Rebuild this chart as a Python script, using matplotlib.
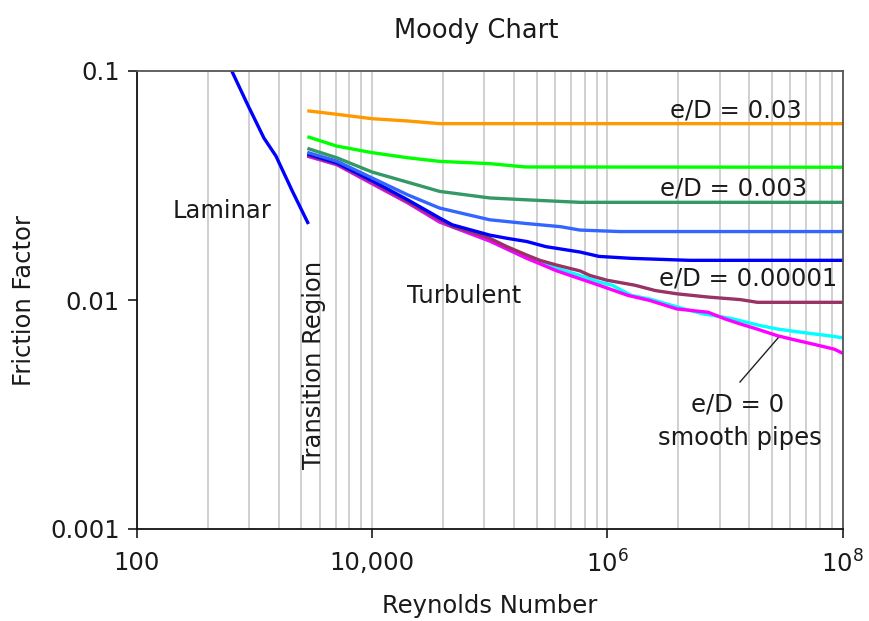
import matplotlib
matplotlib.use("Agg")
import matplotlib.pyplot as plt
from matplotlib.ticker import FixedLocator, FixedFormatter, NullLocator

plt.rcParams['font.family'] = ['DejaVu Sans']

# ---------------- data ----------------
lam_re = [640, 870, 1200, 1520, 2100, 2830]
lam_f = [0.1, 0.0715, 0.051, 0.0425, 0.0298, 0.0218]

ed003_re = [2900, 5000, 1.0e4, 2.0e4, 3.75e4, 1.0e5, 1.0e8]
ed003_f = [0.0669, 0.0647, 0.0619, 0.0605, 0.0589, 0.0589, 0.0589]

ed001_re = [2900, 5000, 1.0e4, 2.0e4, 3.75e4, 1.0e5, 2.0e5, 1.0e8]
ed001_f = [0.0514, 0.0470, 0.0440, 0.0418, 0.0403, 0.0394, 0.0381, 0.0380]

ed0003_re = [2900, 5000, 1.0e4, 2.0e4, 3.75e4, 1.0e5, 2.0e5, 5.85e5, 1.0e8]
ed0003_f = [0.0457, 0.0418, 0.0362, 0.0327, 0.0298, 0.0279, 0.0274, 0.0267, 0.0267]

ed0001_re = [2900, 5000, 1.0e4, 2.0e4, 3.75e4, 7.2e4, 1.0e5, 2.0e5, 4.0e5, 5.85e5, 1.28e6, 1.0e8]
ed0001_f = [0.0439, 0.0404, 0.0341, 0.0288, 0.0252, 0.0233, 0.0224, 0.0216, 0.0209, 0.0202, 0.0199, 0.0199]

ed00003_re = [2900, 5000, 1.0e4, 2.0e4, 3.75e4, 4.8e4, 1.0e5, 1.4e5, 2.07e5, 3.0e5, 5.85e5, 8.5e5, 1.6e6, 5.0e6, 1.0e8]
ed00003_f = [0.0432, 0.0397, 0.0332, 0.0274, 0.0228, 0.0213, 0.0192, 0.0186, 0.0180, 0.0171, 0.0162, 0.0155, 0.0152, 0.0149, 0.0149]

ed000005_re = [2900, 5000, 1.0e4, 2.0e4, 3.75e4, 4.84e4, 6.76e4, 1.0e5, 1.4e5, 2.07e5, 2.67e5, 3.72e5, 5.85e5,
               7.11e5, 9.93e5, 1.72e6, 2.55e6, 3.92e6, 7.21e6, 1.35e7, 1.89e7, 1.0e8]
ed000005_f = [0.0427, 0.0393, 0.0327, 0.0269, 0.0224, 0.0209, 0.0199, 0.0186, 0.0171, 0.0157, 0.0149, 0.0142, 0.0134,
              0.0128, 0.0122, 0.0116, 0.0110, 0.01064, 0.0103, 0.01004, 0.00977, 0.00977]

ed0000001_re = [2900, 5000, 1.0e4, 2.0e4, 3.75e4, 1.0e5, 2.07e5, 3.72e5, 5.85e5, 8.5e5, 1.1e6, 1.6e6, 2.3e6,
                3.2e6, 4.5e6, 6.6e6, 1.0e7, 1.17e7, 2.0e7, 2.8e7, 4.5e7, 7.7e7, 1.0e8]
ed0000001_f = [0.0423, 0.0390, 0.0322, 0.0266, 0.0219, 0.0181, 0.0152, 0.01375, 0.0128, 0.01198, 0.0116, 0.01047,
               0.0101, 0.00962, 0.00914, 0.00869, 0.0084, 0.00827, 0.00773, 0.00747, 0.00722, 0.00698, 0.00684]

smooth_re = [2900, 5000, 1.0e4, 2.0e4, 3.75e4, 1.0e5, 2.07e5, 3.72e5, 8.5e5, 1.5e6, 2.3e6, 3.9e6, 7.2e6,
             1.0e7, 1.35e7, 1.87e7, 2.8e7, 4.2e7, 5.6e7, 8.5e7, 1.0e8]
smooth_f = [0.0423, 0.0390, 0.0322, 0.0266, 0.0219, 0.0181, 0.0152, 0.0134, 0.0116, 0.01047, 0.00995, 0.00914,
            0.00884, 0.00827, 0.00786, 0.00747, 0.00698, 0.00664, 0.00642, 0.0061, 0.00586]

x_ticks = [100, 1e4, 1e6, 1e8]
x_ticklabels = ['100', '10,000', '$10^6$', '$10^8$']
y_ticks = [0.001, 0.01, 0.1]
y_ticklabels = ['0.001', '0.01', '0.1']

W, H = 870, 621

# ---------------- figure ----------------
fig = plt.figure(figsize=(W / 100, H / 100), dpi=100)
ax = fig.add_axes([137 / W, 1 - 529 / H, (842.5 - 137) / W, (529 - 71) / H])
ax.set_xscale('log')
ax.set_yscale('log')
ax.set_xlim(100, 1e8)
ax.set_ylim(0.001, 0.1)


def at(x, y):
    """figure pixel position (from top-left) -> data coordinates, for annotation text"""
    return ax.transData.inverted().transform((x, H - y))


# grid: major every two decades, minor at k^2 multiples within each
minor_pos = []
for base in x_ticks[:-1]:
    for k in range(2, 10):
        minor_pos.append(base * k * k)
ax.xaxis.set_major_locator(FixedLocator(x_ticks))
ax.xaxis.set_major_formatter(FixedFormatter(x_ticklabels))
ax.xaxis.set_minor_locator(FixedLocator(minor_pos))
ax.yaxis.set_major_locator(FixedLocator(y_ticks))
ax.yaxis.set_major_formatter(FixedFormatter(y_ticklabels))
ax.yaxis.set_minor_locator(NullLocator())
ax.grid(True, which='both', axis='x', color='#c4c4c4', linewidth=1.1)
ax.set_axisbelow(True)
ax.tick_params(axis='x', which='minor', length=0)
ax.tick_params(axis='both', which='major', length=6.5, width=1.2, direction='out',
               labelsize=17.5, colors='#1a1a1a')
ax.tick_params(axis='x', which='major', pad=9)
ax.tick_params(axis='y', which='major', pad=6)

for s in ['left', 'bottom']:
    ax.spines[s].set_color('#111111')
    ax.spines[s].set_linewidth(1.3)
for s in ['top', 'right']:
    ax.spines[s].set_color('#555555')
    ax.spines[s].set_linewidth(1.3)

lw = 2.4
ax.plot(lam_re, lam_f, color='#0000ff', lw=lw)
ax.plot(ed003_re, ed003_f, color='#ff9900', lw=lw)
ax.plot(ed001_re, ed001_f, color='#00ff00', lw=lw)
ax.plot(ed0003_re, ed0003_f, color='#339966', lw=lw)
ax.plot(ed0000001_re, ed0000001_f, color='#00ffff', lw=lw)
ax.plot(smooth_re, smooth_f, color='#ff00ff', lw=lw)
ax.plot(ed000005_re, ed000005_f, color='#993366', lw=lw)
ax.plot(ed00003_re, ed00003_f, color='#0000ff', lw=lw)
ax.plot(ed0001_re, ed0001_f, color='#3366ff', lw=lw)

fs = 17.5
tc = '#1a1a1a'
ax.text(*at(802, 117), 'e/D = 0.03', ha='right', va='baseline', fontsize=fs, color=tc)
ax.text(*at(807, 196), 'e/D = 0.003', ha='right', va='baseline', fontsize=fs, color=tc)
ax.text(*at(837, 286), 'e/D = 0.00001', ha='right', va='baseline', fontsize=fs, color=tc)
ax.text(*at(222, 218), 'Laminar', ha='center', va='baseline', fontsize=fs, color=tc)
ax.text(*at(464, 303), 'Turbulent', ha='center', va='baseline', fontsize=fs, color=tc)
ax.text(*at(314, 365), 'Transition Region', ha='center', va='center', rotation=90,
        fontsize=fs, color=tc)
ax.text(*at(738, 411), 'e/D = 0', ha='center', va='baseline', fontsize=fs, color=tc)
ax.text(*at(740, 445), 'smooth pipes', ha='center', va='baseline', fontsize=fs, color=tc)
p0 = at(740, 382)
p1 = at(778, 338)
ax.plot([p0[0], p1[0]], [p0[1], p1[1]], color='#222222', lw=1.0)

ax.set_title('Moody Chart', fontsize=18.5, color=tc, pad=24, x=(476 - 137) / (842.5 - 137))
ax.set_xlabel('Reynolds Number', fontsize=17.5, color=tc, labelpad=12)
ax.set_ylabel('Friction Factor', fontsize=17.5, color=tc, labelpad=10)

fig.savefig('out.png', dpi=100)
